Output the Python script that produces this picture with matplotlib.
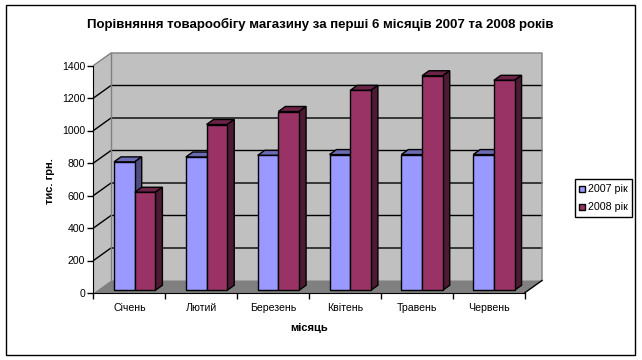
import numpy as np
import matplotlib
matplotlib.use("Agg")
import matplotlib.pyplot as plt
from matplotlib.patches import Polygon, Rectangle

months = ["Січень", "Лютий", "Березень", "Квітень", "Травень", "Червень"]
sales_2007 = [790, 820, 830, 835, 835, 835]
sales_2008 = [603, 1020, 1100, 1230, 1320, 1292]
series_names = ["2007 рік", "2008 рік"]
y_ticks = [0, 200, 400, 600, 800, 1000, 1200, 1400]

W, H = 642, 360
plt.rcParams["font.family"] = ["Liberation Sans", "DejaVu Sans"]

fig = plt.figure(figsize=(W / 100, H / 100), dpi=100)
# front plane of the 3d box, in pixels
left, right, bottom, top = 93.5, 524.5, 293, 65.5
ax = fig.add_axes([left / W, 1 - bottom / H, (right - left) / W, (bottom - top) / H])
ax.set_xlim(0, len(months))
ax.set_ylim(0, 1400)
ax.patch.set_visible(False)

# how far the box goes back, in data units
depth_x = 17.5 / ((right - left) / len(months))
depth_y = 12.5 / ((bottom - top) / 1400)


def pt(x, y, d=0.0):
    return (x + d * depth_x, y + d * depth_y)


def poly(points, fc, ec="none", lw=0.0, z=1):
    ax.add_patch(Polygon(points, closed=True, fc=fc, ec=ec, lw=lw, zorder=z,
                         clip_on=False, joinstyle="miter"))


n = len(months)
# walls and floor
poly([pt(0, 0), pt(0, 0, 1), pt(0, 1400, 1), pt(0, 1400)], "#c0c0c0")
poly([pt(0, 0, 1), pt(n, 0, 1), pt(n, 1400, 1), pt(0, 1400, 1)], "#c0c0c0")
poly([pt(0, 0), pt(n, 0), pt(n, 0, 1), pt(0, 0, 1)], "#808080")

# gridlines along side wall and back wall
for v in y_ticks[1:-1]:
    xs, ys = zip(pt(0, v), pt(0, v, 1), pt(n, v, 1))
    ax.plot(xs, ys, color="black", lw=1.0, zorder=2, clip_on=False)

# wall edges
for seg in ([pt(0, 1400), pt(0, 1400, 1), pt(n, 1400, 1), pt(n, 0, 1)],
            [pt(0, 0, 1), pt(0, 1400, 1)]):
    xs, ys = zip(*seg)
    ax.plot(xs, ys, color="#808080", lw=1.0, zorder=2, clip_on=False)
xs, ys = zip(pt(n, 0), pt(n, 0, 1))
ax.plot(xs, ys, color="black", lw=1.0, zorder=2, clip_on=False)

# bars
bar_w = 20.7 / ((right - left) / n)
d_front, d_back = 0.22, 0.62
colors = [("#9999ff", "#6b6bb3", "#4d4d80"), ("#993366", "#6b2447", "#4d1a33")]
for i in range(n):
    x0 = i + 0.52 - bar_w
    for j, vals in enumerate([sales_2007, sales_2008]):
        a = x0 + j * bar_w
        b = a + bar_w
        v = vals[i]
        fc, top_c, side_c = colors[j]
        z = 3 + i + j * 0.1
        poly([pt(a, v, d_front), pt(b, v, d_front), pt(b, v, d_back), pt(a, v, d_back)],
             top_c, "black", 1.0, z)
        poly([pt(b, 0, d_front), pt(b, 0, d_back), pt(b, v, d_back), pt(b, v, d_front)],
             side_c, "black", 1.0, z)
        poly([pt(a, 0, d_front), pt(b, 0, d_front), pt(b, v, d_front), pt(a, v, d_front)],
             fc, "black", 1.0, z)

# axes
for s in ["top", "right"]:
    ax.spines[s].set_visible(False)
ax.spines["left"].set_zorder(20)
ax.spines["bottom"].set_zorder(20)
ax.set_yticks(y_ticks)
ax.set_xticks(np.arange(n + 1))
ax.set_xticklabels([])
ax.tick_params(axis="both", length=4, width=1, color="black")
ax.tick_params(axis="y", pad=2, labelsize=7.6)
for i, m in enumerate(months):
    ax.text(i + 0.5, -92, m, ha="center", va="center", fontsize=7.6, clip_on=False)

fig.text(320 / W, 1 - 24.5 / H, "Порівняння товарообігу магазину за перші 6 місяців 2007 та 2008 років",
         ha="center", va="center", fontsize=9.5, fontweight="bold")
fig.text(309 / W, 1 - 328 / H, "місяць", ha="center", va="center", fontsize=8, fontweight="bold")
fig.text(50 / W, 1 - 181 / H, "тис. грн.", ha="center", va="center", fontsize=8,
         fontweight="bold", rotation=90)

# overlay in pixel coordinates for legend and border
bg = fig.add_axes([0, 0, 1, 1], zorder=5)
bg.set_xlim(0, W)
bg.set_ylim(H, 0)
bg.axis("off")
bg.add_patch(Rectangle((574.5, 178.5), 57, 38, fc="white", ec="black", lw=1))
for name, c, yy in zip(series_names, [colors[0][0], colors[1][0]], [189, 207]):
    bg.add_patch(Rectangle((578.5, yy - 3), 6, 6, fc=c, ec="black", lw=1))
    bg.text(588, yy, name, ha="left", va="center", fontsize=7.7)

# outer border
bg.add_patch(Rectangle((5.5, 5), 629, 349.5, fc="none", ec="black", lw=1))

fig.savefig("out.png", dpi=100)
